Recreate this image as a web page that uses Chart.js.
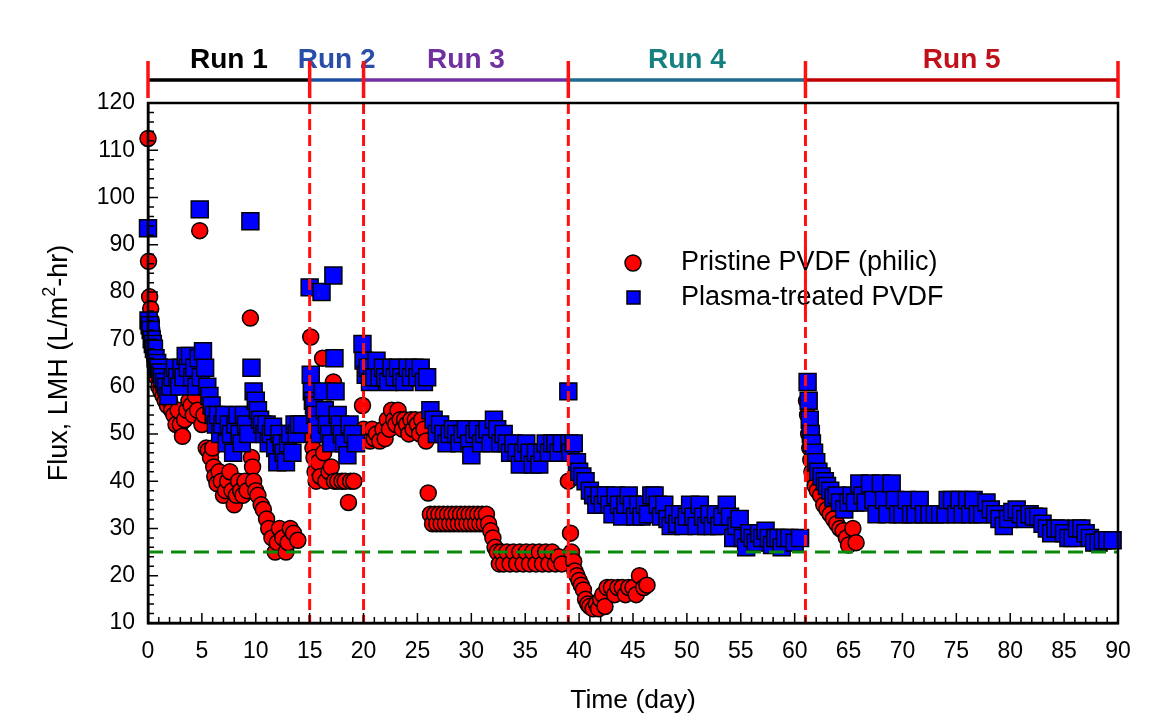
<!DOCTYPE html>
<html><head><meta charset="utf-8">
<script src="https://cdn.jsdelivr.net/npm/chart.js@4/dist/chart.umd.min.js"></script>
<style>html,body{margin:0;padding:0;background:#fff}#wrap{width:1175px;height:720px}</style>
</head><body><div id="wrap"><canvas id="c" width="1175" height="720"></canvas></div>
<script>
// ---- data (day, flux LMH) ----
const runNames = ["Run 1","Run 2","Run 3","Run 4","Run 5"];
const runBounds = [0, 15, 20, 39, 61, 90];
const targetFlux = 25;
const xTicks = [0,5,10,15,20,25,30,35,40,45,50,55,60,65,70,75,80,85,90];
const yTicks = [10,20,30,40,50,60,70,80,90,100,110,120];

const pristineRun1 = [[0,112.5],[0.05,86.5],[0.15,79],[0.25,76.5],[0.3,74],[0.35,72],[0.45,70],[0.5,68],[0.6,66],[0.7,63],[0.8,62],[1,60],[1.2,59],[1.4,58],[1.6,57],[1.8,56],[2,57],[2.2,55],[2.4,54],[2.6,52],[2.8,55],[3,52],[3.2,49.5],[3.4,53],[3.6,55],[3.8,57],[4,56],[4.2,54],[4.4,58],[4.6,55],[4.8,93],[5,52],[5.2,54],[5.4,47],[5.6,46.5],[5.8,45],[6,47],[6.1,43],[6.2,41],[6.4,39.5],[6.6,42],[6.8,40],[7,37],[7.2,38],[7.4,40],[7.6,42],[7.8,38],[8,35],[8.2,37],[8.4,40],[8.6,38],[8.8,37],[9,40],[9.2,38],[9.5,74.5],[9.6,45],[9.7,43],[9.8,40],[10,38],[10.2,37],[10.5,35],[10.7,34],[11,32],[11.2,30],[11.5,28],[11.8,25],[12,27],[12.2,30],[12.5,28],[12.8,25],[13,27],[13.2,30],[13.5,29],[13.9,27.5]];
const pristineRun2 = [[15.1,70.5],[15.2,49.5],[15.3,47],[15.4,45],[15.5,42],[15.6,40],[15.8,44],[16,41],[16.2,66],[16.3,46],[16.5,40],[16.8,42],[17,43],[17.2,61],[17.3,40],[17.6,40],[18,40],[18.3,40],[18.6,35.5],[18.8,40],[19.1,40]];
const pristineRun3 = [[19.9,56],[20,51],[20.2,49],[20.4,50],[20.6,48.5],[20.8,51],[21,49],[21.2,50],[21.5,48.5],[21.8,51],[22,49],[22.2,53],[22.4,51],[22.6,55],[22.8,53],[23,52],[23.2,55],[23.4,53],[23.6,51],[23.8,53],[24,52],[24.2,50],[24.4,53],[24.6,51],[24.8,53],[25,52],[25.2,50],[25.4,53],[25.6,51],[25.8,48.5],[26,37.5],[26.2,33],[26.4,31],[26.6,33],[26.8,31],[27,33],[27.2,31],[27.4,33],[27.6,31],[27.8,33],[28,31],[28.2,33],[28.4,31],[28.6,33],[28.8,31],[29,33],[29.2,31],[29.4,33],[29.6,31],[29.8,33],[30,31],[30.2,33],[30.4,31],[30.6,33],[30.8,31],[31,33],[31.2,31],[31.4,33],[31.6,31],[31.8,29.5],[32,28],[32.2,26],[32.4,25],[32.6,22.5],[32.8,25],[33,22.5],[33.3,25],[33.6,22.5],[33.9,25],[34.2,22.5],[34.5,25],[34.8,22.5],[35.1,25],[35.4,22.5],[35.7,25],[36,22.5],[36.3,25],[36.6,22.5],[36.9,25],[37.2,22.5],[37.5,25],[37.8,22.5],[38.1,24],[38.4,22.5]];
const pristineRun4 = [[39,40],[39.2,29],[39.3,25],[39.5,23],[39.6,21],[39.8,20],[40,19],[40.2,18],[40.4,17],[40.6,15],[40.8,14],[41,13.5],[41.3,13],[41.6,14],[41.8,13],[42,15],[42.2,16],[42.4,13.5],[42.6,17.5],[43,17.5],[43.3,16],[43.6,17.5],[44,17.5],[44.3,16],[44.6,17.5],[45,17.5],[45.3,16],[45.6,20],[46,17.5],[46.3,18]];
const pristineRun5 = [[61.1,57],[61.2,54],[61.3,50],[61.4,47],[61.5,44.5],[61.6,42],[61.7,41],[61.9,39],[62.1,38],[62.4,37],[62.7,35],[63,34],[63.3,33],[63.6,32],[63.9,31],[64.2,30],[64.5,29.5],[64.8,28],[65,26.5],[65.4,30],[65.7,27]];

const plasmaRun1 = [[0,93.5],[0.05,74],[0.15,73],[0.25,72],[0.35,70],[0.45,69],[0.55,68],[0.7,66],[0.85,65],[1,64],[1.15,63],[1.3,62],[1.5,61],[1.7,60],[1.9,58],[2.1,60],[2.3,62],[2.5,64],[2.7,62],[2.9,60],[3.1,64],[3.3,62],[3.5,66.5],[3.7,64],[3.9,66.5],[4.1,62],[4.3,64],[4.5,60],[4.7,66],[4.8,97.5],[4.9,62],[5.1,67.5],[5.3,64],[5.5,60],[5.7,58],[5.9,56],[6.1,54],[6.3,52],[6.5,54],[6.7,50],[6.9,52],[7.1,54],[7.3,48],[7.5,52],[7.7,50],[7.9,46],[8.1,52],[8.3,54],[8.5,50],[8.7,48],[8.9,54],[9.1,52],[9.3,50],[9.5,95],[9.6,64],[9.8,59],[10,57],[10.2,55],[10.4,53],[10.6,52],[10.8,50],[11,52],[11.2,48],[11.4,50],[11.6,51.5],[11.8,47],[12,44],[12.2,50],[12.4,48],[12.6,46],[12.8,44],[13,48],[13.2,50],[13.4,46],[13.6,52],[13.8,50],[14,52],[14.3,52]];
const plasmaRun2 = [[15,81],[15.1,62.5],[15.2,59],[15.3,57],[15.4,56],[15.5,54],[15.7,52],[15.9,50],[16.1,80],[16.2,59],[16.4,55],[16.6,52],[16.8,50],[17,48],[17.2,83.5],[17.3,66],[17.4,59],[17.6,54],[17.8,52],[18,50],[18.2,48],[18.5,45.5],[18.7,52],[19,50],[19.3,48]];
const plasmaRun3 = [[19.9,69],[20,65.5],[20.2,62.5],[20.4,64],[20.6,61],[20.8,64],[21,62],[21.2,65.5],[21.5,62],[21.8,64],[22,62],[22.3,61],[22.6,64],[22.9,62],[23.2,64],[23.5,62],[23.8,61],[24.1,64],[24.4,62],[24.7,64],[25,62],[25.3,64],[25.6,61],[25.9,62],[26.2,55],[26.5,53],[26.8,50],[27.1,52],[27.4,50],[27.7,48],[28,50],[28.3,51],[28.6,50],[28.9,48],[29.2,50],[29.5,51],[29.8,48],[30,45.5],[30.3,50],[30.6,51],[30.9,48],[31.2,50],[31.5,51],[31.8,48],[32.1,53],[32.4,51],[32.7,48],[33,50],[33.3,48],[33.6,46],[33.9,48],[34.2,46],[34.5,43.5],[34.8,46],[35.1,48],[35.4,46],[35.7,43.5],[36,46],[36.3,43.5],[36.6,46],[36.9,48],[37.2,46],[37.5,48],[37.8,48],[38.1,46],[38.4,48]];
const plasmaRun4 = [[39,59],[39.1,48],[39.2,46],[39.5,48],[39.8,44],[40,42],[40.3,41],[40.6,40],[41,38],[41.3,37],[41.6,35],[41.9,37],[42.2,35],[42.5,37],[42.8,35],[43.1,33],[43.4,37],[43.7,35],[44,32.5],[44.3,35],[44.6,37],[44.9,35],[45.2,32.5],[45.5,35],[45.8,32.5],[46.1,35],[46.4,33],[46.7,37],[47,37],[47.3,35],[47.6,32.5],[47.9,35],[48.2,32],[48.5,30.5],[48.8,33],[49.1,31],[49.4,33],[49.7,30.5],[50,32.5],[50.3,35],[50.6,32.5],[50.9,30.5],[51.2,35],[51.5,32.5],[51.8,30.5],[52.1,33],[52.4,30.5],[52.7,33],[53,30.5],[53.3,32.5],[53.7,35],[54,32.5],[54.3,28],[54.6,30.5],[54.9,32],[55.2,28],[55.5,26],[55.8,29],[56.1,28],[56.4,27],[56.7,29],[57,28],[57.3,29.5],[57.6,28],[57.9,26.5],[58.2,28],[58.5,28],[58.8,26],[59.1,28],[59.5,28],[60,27],[60.5,28]];
const plasmaRun5 = [[61.2,61],[61.3,57],[61.4,53],[61.5,50],[61.6,48],[61.8,46],[62,44],[62.2,42],[62.5,41],[62.8,40],[63,39],[63.3,38],[63.6,36.5],[63.9,37],[64.2,35.5],[64.6,34],[65,35.5],[65.3,37],[65.6,35.5],[66,39.5],[66.3,37],[66.6,35.5],[67,39.5],[67.3,36],[67.6,33],[68,39.5],[68.3,36],[68.6,33],[69,39.5],[69.3,36],[69.6,33],[70,33],[70.4,36],[70.8,33],[71.2,33],[71.6,36],[72,33],[72.5,33],[73,33],[73.5,33],[74,33],[74.2,36],[74.6,36],[75,33],[75.3,36],[75.6,33],[76,36],[76.3,33],[76.6,36],[77,33],[77.4,33],[77.8,35.5],[78.2,34],[78.6,33],[79,32],[79.4,30.5],[79.8,32],[80.2,33.5],[80.6,34],[81,33],[81.4,32],[81.8,33],[82.2,32.5],[82.6,32.5],[83,31],[83.4,30],[83.8,29],[84.2,30],[84.6,30],[85,29],[85.4,28],[85.8,28],[86.2,30],[86.6,30],[87,29],[87.4,28],[87.8,27],[88.2,27],[88.6,27.5],[89,27.5],[89.5,27.5]];

// ---- styles ----
const runLineColors = ["#000000","#1f4ea0","#7030a0","#1f6b8c","#c00000"];
const runTextColors = ["#000000","#2a4ea8","#7030a0","#178080","#c0101a"];
const FONT = '"Liberation Sans", Arial, sans-serif';

const toPts = arrs => arrs.flat().map(p => ({x:p[0], y:p[1]}));

const decor = {
  id: 'decor',
  afterDatasetsDraw(chart) {
    const {ctx, chartArea:a, scales:{x, y}} = chart;
    ctx.save();
    ctx.strokeStyle = '#0a8a0a'; ctx.lineWidth = 3; ctx.setLineDash([15,8]);
    ctx.beginPath(); ctx.moveTo(a.left, y.getPixelForValue(targetFlux)); ctx.lineTo(a.right, y.getPixelForValue(targetFlux)); ctx.stroke();
    ctx.strokeStyle = '#ff1010'; ctx.lineWidth = 3; ctx.setLineDash([11,5]);
    for (let i = 1; i < runBounds.length - 1; i++) {
      const px = x.getPixelForValue(runBounds[i]);
      ctx.beginPath(); ctx.moveTo(px, a.top); ctx.lineTo(px, a.bottom); ctx.stroke();
    }
    ctx.setLineDash([]);
    ctx.restore();
  },
  afterDraw(chart) {
    const {ctx, chartArea:a, scales:{x, y}} = chart;
    ctx.save();
    ctx.strokeStyle = '#000'; ctx.lineWidth = 2.5;
    ctx.strokeRect(a.left, a.top, a.right - a.left, a.bottom - a.top);
    ctx.lineWidth = 1.5;
    ctx.beginPath();
    for (let d = 0; d <= 90; d++) {
      const px = x.getPixelForValue(d), len = d % 5 === 0 ? 10 : 6;
      ctx.moveTo(px, a.bottom); ctx.lineTo(px, a.bottom - len);
    }
    for (let v = 10; v <= 120; v += 2) {
      const py = y.getPixelForValue(v), len = v % 10 === 0 ? 10 : 6;
      ctx.moveTo(a.left, py); ctx.lineTo(a.left + len, py);
    }
    ctx.stroke();
    // top run bar
    const barY = 80;
    ctx.lineWidth = 3.5;
    for (let i = 0; i < runNames.length; i++) {
      const x0 = x.getPixelForValue(runBounds[i]), x1 = x.getPixelForValue(runBounds[i+1]);
      ctx.strokeStyle = runLineColors[i];
      ctx.beginPath(); ctx.moveTo(x0, barY); ctx.lineTo(x1, barY); ctx.stroke();
      ctx.save();
      ctx.fillStyle = runTextColors[i];
      ctx.font = 'bold 28px ' + FONT;
      ctx.textAlign = 'center'; ctx.textBaseline = 'middle';
      ctx.fillText(runNames[i], (x0 + x1) / 2, 60);
      ctx.restore();
    }
    ctx.strokeStyle = '#ff1010'; ctx.lineWidth = 3.5;
    for (let i = 0; i < runBounds.length; i++) {
      const px = x.getPixelForValue(runBounds[i]);
      ctx.beginPath(); ctx.moveTo(px, 61); ctx.lineTo(px, 98); ctx.stroke();
    }
    // legend
    ctx.lineWidth = 1.5; ctx.strokeStyle = '#000';
    ctx.fillStyle = '#ff0000';
    ctx.beginPath(); ctx.arc(633, 263, 8, 0, Math.PI*2); ctx.fill(); ctx.stroke();
    ctx.fillStyle = '#0000ff';
    ctx.fillRect(627, 291, 13, 13); ctx.strokeRect(627, 291, 13, 13);
    ctx.fillStyle = '#000'; ctx.font = '27px ' + FONT;
    ctx.textAlign = 'left'; ctx.textBaseline = 'middle';
    ctx.fillText('Pristine PVDF (philic)', 681, 263);
    ctx.fillText('Plasma-treated PVDF', 681, 298);
    // axis titles
    ctx.font = '26.5px ' + FONT; ctx.textAlign = 'center';
    ctx.fillText('Time (day)', (a.left + a.right)/2, 701);
    ctx.save();
    ctx.translate(60, (a.top + a.bottom)/2);
    ctx.rotate(-Math.PI/2);
    const p1 = 'Flux, LMH (L/m', sup = '2', p2 = '-hr)';
    ctx.font = '27px ' + FONT;
    const w1 = ctx.measureText(p1).width, w3 = ctx.measureText(p2).width;
    ctx.font = '18px ' + FONT;
    const w2 = ctx.measureText(sup).width;
    const tot = w1 + w2 + w3;
    ctx.textAlign = 'left';
    let sx = -tot/2;
    ctx.font = '27px ' + FONT; ctx.fillText(p1, sx, 0); sx += w1;
    ctx.font = '18px ' + FONT; ctx.fillText(sup, sx, -10); sx += w2;
    ctx.font = '27px ' + FONT; ctx.fillText(p2, sx, 0);
    ctx.restore();
    // day-61 dashed line crosses the legend in the reference
    ctx.strokeStyle = '#ff1010'; ctx.lineWidth = 3; ctx.setLineDash([11,5]);
    const p61 = x.getPixelForValue(runBounds[4]);
    ctx.beginPath(); ctx.moveTo(p61, 240); ctx.lineTo(p61, 320); ctx.stroke();
    ctx.restore();
  }
};

new Chart(document.getElementById('c'), {
  type: 'scatter',
  data: {
    datasets: [
      { label: 'Pristine PVDF (philic)', data: toPts([pristineRun1, pristineRun2, pristineRun3, pristineRun4, pristineRun5]),
        pointStyle: 'circle', pointRadius: 8, pointBackgroundColor: '#ff0000', pointBorderColor: '#000', pointBorderWidth: 1.5, order: 2, clip: false },
      { label: 'Plasma-treated PVDF', data: toPts([plasmaRun1, plasmaRun2, plasmaRun3, plasmaRun4, plasmaRun5]),
        pointStyle: 'rect', pointRadius: 12, pointBackgroundColor: '#0000ff', pointBorderColor: '#000', pointBorderWidth: 1.5, order: 1, clip: false }
    ]
  },
  options: {
    responsive: false, animation: false, devicePixelRatio: 1,
    layout: { padding: { left: 0, top: 103, right: 57, bottom: 0 } },
    plugins: { legend: { display: false }, tooltip: { enabled: false } },
    scales: {
      x: { type: 'linear', min: 0, max: 90,
        afterBuildTicks: s => { s.ticks = xTicks.map(v => ({value: v})); },
        afterFit: s => { s.height = 97; },
        ticks: { color: '#000', font: { size: 23, family: FONT }, padding: 15, maxRotation: 0, autoSkip: false },
        grid: { display: true, drawOnChartArea: false, drawTicks: false, color: 'rgba(0,0,0,0)' },
        border: { display: true, color: '#000', width: 2.5 } },
      y: { type: 'linear', min: 10, max: 120,
        afterBuildTicks: s => { s.ticks = yTicks.map(v => ({value: v})); },
        afterFit: s => { s.width = 148; },
        ticks: { color: '#000', font: { size: 23, family: FONT }, padding: 13, autoSkip: false },
        grid: { display: true, drawOnChartArea: false, drawTicks: false, color: 'rgba(0,0,0,0)' },
        border: { display: true, color: '#000', width: 2.5 } }
    }
  },
  plugins: [decor]
});
</script>
</body></html>
